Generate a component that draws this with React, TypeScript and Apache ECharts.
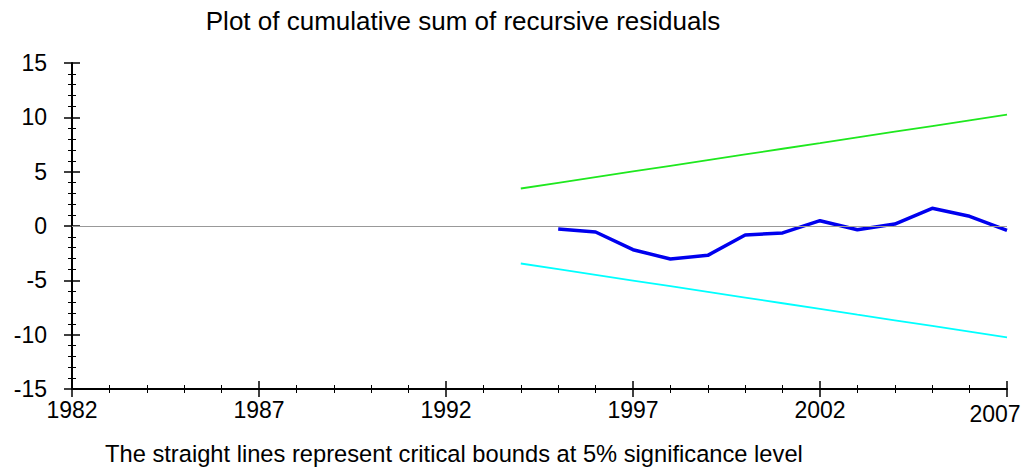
import React, { useEffect, useRef } from "react";
import * as echarts from "echarts";

const BASE_YEAR = 1982;
const END_YEAR = 2007;
const boundYears = [1994, 1995, 1996, 1997, 1998, 1999, 2000, 2001, 2002, 2003, 2004, 2005, 2006, 2007];
const upperBound = [3.45, 3.97, 4.5, 5.02, 5.54, 6.07, 6.59, 7.11, 7.63, 8.16, 8.68, 9.2, 9.73, 10.25];
const lowerBound = [-3.45, -3.97, -4.5, -5.02, -5.54, -6.07, -6.59, -7.11, -7.63, -8.16, -8.68, -9.2, -9.73, -10.25];
const cusumYears = [1995, 1996, 1997, 1998, 1999, 2000, 2001, 2002, 2003, 2004, 2005, 2006, 2007];
const cusum = [-0.28, -0.55, -2.18, -3.04, -2.7, -0.83, -0.64, 0.49, -0.34, 0.18, 1.63, 0.89, -0.4];

const FONT = "Liberation Sans, Arial, Helvetica, sans-serif";

export default function App() {
  const ref = useRef<HTMLDivElement>(null);
  useEffect(() => {
    if (!ref.current) return;
    const chart = echarts.init(ref.current, null, { renderer: "svg" });
    const toX = (y: number) => y - BASE_YEAR;
    const xCommon = {
      type: "value",
      min: 0,
      max: END_YEAR - BASE_YEAR,
      interval: 5,
      position: "bottom",
      offset: 0,
      splitLine: { show: false },
    };
    const yCommon = {
      type: "value",
      min: -15,
      max: 15,
      interval: 5,
      position: "left",
      offset: 0,
      splitLine: { show: false },
    };
    chart.setOption({
      animation: false,
      textStyle: { fontFamily: FONT },
      title: [
        {
          text: "Plot of cumulative sum of recursive residuals",
          left: 458,
          textAlign: "center",
          top: 3,
          textStyle: { fontSize: 26, fontWeight: "normal", color: "#000", fontFamily: FONT },
        },
        {
          text: "The straight lines represent critical bounds at 5% significance level",
          left: 100,
          top: 437,
          textStyle: { fontSize: 23.7, fontWeight: "normal", color: "#000", fontFamily: FONT },
        },
      ],
      grid: { left: 72, right: 23, top: 63, bottom: 87, containLabel: false },
      xAxis: [
        {
          ...xCommon,
          axisLine: { show: true, onZero: false, lineStyle: { color: "#000", width: 2 } },
          axisTick: { show: true, inside: false, length: 8, lineStyle: { color: "#000", width: 1.5 } },
          minorTick: { show: true, splitNumber: 5, length: 4, lineStyle: { color: "#000", width: 1 } },
          axisLabel: {
            show: true,
            margin: 9,
            fontSize: 23,
            color: "#000",
            fontFamily: FONT,
            formatter: (v: number) => {
              const yr = v + BASE_YEAR;
              return yr === END_YEAR ? "{low|" + yr + "}" : String(yr);
            },
            rich: { low: { fontSize: 23, color: "#000", fontFamily: FONT, padding: [4, 24, 0, 0] } },
          },
        },
        {
          ...xCommon,
          axisLine: { show: false, onZero: false },
          axisTick: { show: true, inside: true, length: 8, lineStyle: { color: "#000", width: 1.5 } },
          minorTick: { show: true, splitNumber: 5, length: 4, lineStyle: { color: "#000", width: 1 } },
          axisLabel: { show: false },
        },
      ],
      yAxis: [
        {
          ...yCommon,
          axisLine: { show: true, onZero: false, lineStyle: { color: "#000", width: 2 } },
          axisTick: { show: true, inside: false, length: 8, lineStyle: { color: "#000", width: 1.5 } },
          minorTick: { show: true, splitNumber: 5, length: 4, lineStyle: { color: "#000", width: 1 } },
          axisLabel: { show: true, margin: 25, fontSize: 23, color: "#000", fontFamily: FONT },
        },
        {
          ...yCommon,
          axisLine: { show: false, onZero: false },
          axisTick: { show: true, inside: true, length: 8, lineStyle: { color: "#000", width: 1.5 } },
          minorTick: { show: true, splitNumber: 5, length: 4, lineStyle: { color: "#000", width: 1 } },
          axisLabel: { show: false },
        },
      ],
      series: [
        {
          type: "line",
          name: "zero",
          data: [],
          markLine: {
            silent: true,
            symbol: "none",
            label: { show: false },
            lineStyle: { color: "#999", width: 1, type: "solid" },
            data: [{ yAxis: 0 }],
          },
        },
        {
          type: "line",
          name: "upper",
          showSymbol: false,
          data: boundYears.map((y, i) => [toX(y), upperBound[i]]),
          lineStyle: { color: "#1ee81e", width: 1.8 },
          itemStyle: { color: "#1ee81e" },
        },
        {
          type: "line",
          name: "lower",
          showSymbol: false,
          data: boundYears.map((y, i) => [toX(y), lowerBound[i]]),
          lineStyle: { color: "#00ffff", width: 1.8 },
          itemStyle: { color: "#00ffff" },
        },
        {
          type: "line",
          name: "cusum",
          showSymbol: false,
          data: cusumYears.map((y, i) => [toX(y), cusum[i]]),
          lineStyle: { color: "#0000ee", width: 3.5 },
          itemStyle: { color: "#0000ee" },
        },
      ],
    });
    return () => chart.dispose();
  }, []);
  return (
    <div
      ref={ref}
      style={{ position: "fixed", left: 0, top: 0, width: 1030, height: 476, background: "#fff" }}
    />
  );
}
